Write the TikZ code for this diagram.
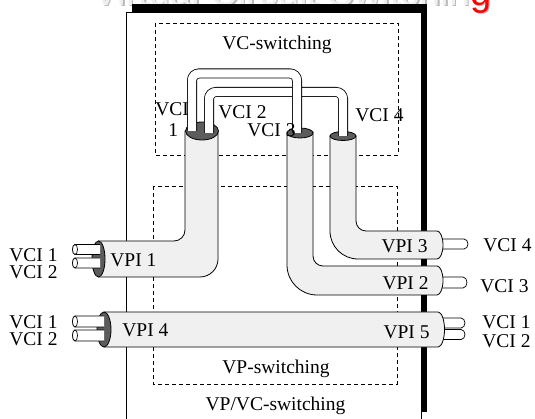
\documentclass[tikz,border=0pt]{standalone}
\usepackage{fontspec}
\setmainfont{Liberation Serif}
\newfontfamily\titlefont{Liberation Sans}
\definecolor{cablegray}{gray}{0.94}
\definecolor{facegray}{gray}{0.36}
\begin{document}
\begin{tikzpicture}[x=1pt,y=-1pt,line width=0.8pt,
  lbl/.style={font=\fontsize{19.5}{20}\selectfont, inner sep=0pt},
  ttl/.style={font=\titlefont\fontsize{38}{40}\selectfont, inner sep=0pt, anchor=base east},
  cable/.style={fill=cablegray, draw=black, line width=0.8pt},
  face/.style={fill=facegray, draw=black, line width=0.8pt},
  tube/.style={fill=white, draw=black, line width=0.7pt},
  vcloop/.style={draw=black, line width=0.8pt, double=white, double distance=8.4pt, rounded corners=7pt},
  frame/.style={dash pattern=on 4pt off 3pt, line width=0.8pt}]
\useasboundingbox (0,0) rectangle (535,419);

% slide title (only its lower edge lies inside the frame)
\node[ttl, text=gray!55] (titleshadow) at (493.5,6.5) {Virtual Circuit Switching};
\node[ttl, text=gray!12] (title) at (492,5.5) {Virtual Circuit Switchin\textcolor{red}{g}};

% switch housing with its heavy shadow
\fill[black] (132,4) rectangle (427,412);
\draw[fill=white] (126.5,12.5) rectangle (421,425);

% switching stages
\draw[frame] (155,23) rectangle (398,155);
\draw[frame] (153,186) rectangle (397,384);
\node[lbl, anchor=base] (vcsw) at (277,50) {VC-switching};
\node[lbl, anchor=base] (vpsw) at (276,373) {VP-switching};
\node[lbl, anchor=base] (vpvcsw) at (275.5,410) {VP/VC-switching};

% channels leaving on the right (partly hidden by the paths)
\draw[tube] (430,239) -- (464,239) arc[start angle=-90,end angle=90,x radius=4,y radius=5] -- (430,249);
\draw[tube] (430,277) -- (463,277) arc[start angle=-90,end angle=90,x radius=4,y radius=5.5] -- (430,288);
\draw[tube] (430,318) -- (461,318) arc[start angle=-90,end angle=90,x radius=4,y radius=5] -- (430,328);
\draw[tube] (430,329.5) -- (461,329.5) arc[start angle=-90,end angle=90,x radius=4,y radius=5] -- (430,339.5);

% virtual paths
\draw[cable] (330,136) -- (330,231) arc[start angle=180,end angle=90,radius=28]
  -- (437,259) arc[start angle=90,end angle=-90,x radius=6,y radius=14]
  -- (366,231) arc[start angle=90,end angle=180,radius=10] -- (356,136) -- cycle;
\draw[cable] (287,132) -- (287,265) arc[start angle=180,end angle=90,radius=30]
  -- (437,295) arc[start angle=90,end angle=-90,x radius=6,y radius=14.5]
  -- (323,266) arc[start angle=90,end angle=180,radius=10] -- (313,132) -- cycle;
\draw[cable] (104,312) -- (438,312) arc[start angle=-90,end angle=90,x radius=6.5,y radius=17.5]
  -- (104,347) -- cycle;
\draw[cable] (98.5,241) -- (174,241) arc[start angle=90,end angle=0,radius=11]
  -- (185,131) -- (218,131) -- (218,259) arc[start angle=0,end angle=90,radius=18]
  -- (98.5,277) -- cycle;

% path end faces
\draw[face] (202,131) ellipse[x radius=16.5,y radius=9];
\draw[face] (300,133) ellipse[x radius=13,y radius=5];
\draw[face] (343,136) ellipse[x radius=13,y radius=4.5];
\draw[face] (98.5,259) ellipse[x radius=6.5,y radius=18];
\draw[face] (104,329.5) ellipse[x radius=7,y radius=17.5];

% channels switched inside the VC stage
\draw[vcloop] (209,133) -- (209,92) -- (343,92) -- (343,136);
\draw[vcloop] (192,131) -- (192,73.5) -- (297,73.5) -- (297,133);

% channels entering on the left
\foreach \cy in {249.5,263} {
  \draw[tube] (100,\cy-5) -- (75,\cy-5) arc[start angle=270,end angle=90,x radius=2.5,y radius=5] -- (100,\cy+5);
  \draw[tube] (75,\cy) ellipse[x radius=2.5,y radius=5];
}
\foreach \cy in {321.5,335.5} {
  \draw[tube] (104,\cy-5.5) -- (75,\cy-5.5) arc[start angle=270,end angle=90,x radius=2.5,y radius=5.5] -- (104,\cy+5.5);
  \draw[tube] (75,\cy) ellipse[x radius=2.5,y radius=5.5];
}

% labels
\node[lbl, anchor=base east] (inA1) at (58,261.5) {VCI 1};
\node[lbl, anchor=base east] (inA2) at (58,278.5) {VCI 2};
\node[lbl, anchor=base east] (inB1) at (58,328) {VCI 1};
\node[lbl, anchor=base east] (inB2) at (58,345) {VCI 2};
\node[lbl, anchor=base west] (vpi1) at (110,267) {VPI 1};
\node[lbl, anchor=base west] (vpi4) at (122,337) {VPI 4};
\node[lbl, anchor=base east] (vpi3) at (428,253) {VPI 3};
\node[lbl, anchor=base east] (vpi2) at (429,290) {VPI 2};
\node[lbl, anchor=base east] (vpi5) at (430,338) {VPI 5};
\node[lbl, anchor=base west] (outA) at (483,252) {VCI 4};
\node[lbl, anchor=base west] (outB) at (480,292.5) {VCI 3};
\node[lbl, anchor=base west] (outC1) at (482,328) {VCI 1};
\node[lbl, anchor=base west] (outC2) at (482,347) {VCI 2};
\node[lbl, anchor=base west] (vc1a) at (155,116) {VCI};
\node[lbl, anchor=base west] (vc1b) at (168,136.7) {1};
\node[lbl, anchor=base west] (vc2) at (218,119) {VCI 2};
\node[lbl, anchor=base west] (vc3) at (247,137) {VCI 3};
\node[lbl, anchor=base west] (vc4) at (355,122) {VCI 4};
\end{tikzpicture}
\end{document}
